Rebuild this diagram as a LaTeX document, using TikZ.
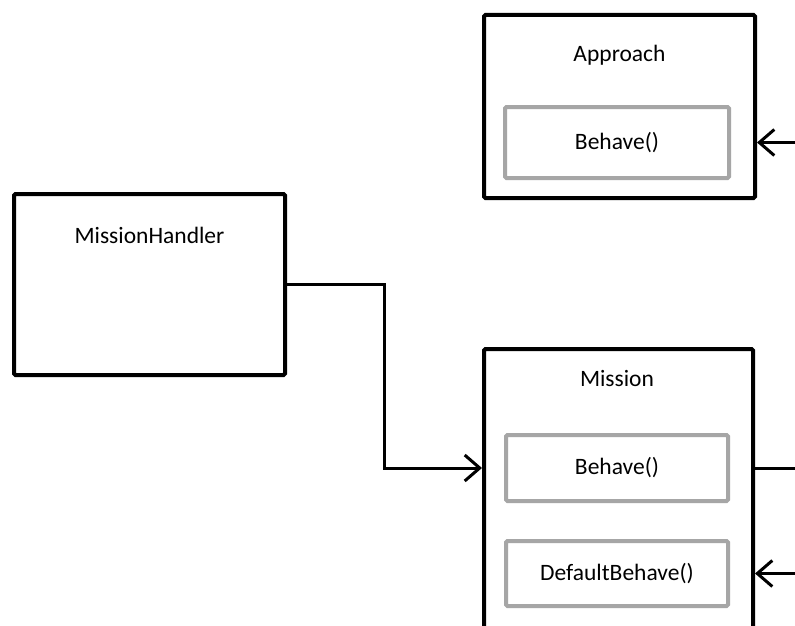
\documentclass[tikz,border=0pt]{standalone}
\usepackage{fontspec}
\setmainfont{Carlito}
\usetikzlibrary{arrows.meta}
\definecolor{methodgray}{HTML}{A6A6A6}
\tikzset{
  classbox/.style={draw=black, line width=4pt, rounded corners=1.5pt, inner sep=0pt, fill=white},
  methodbox/.style={draw=methodgray, line width=4pt, rounded corners=1.5pt, inner sep=0pt,
    font=\fontsize{23.5}{28}\selectfont},
  title/.style={inner sep=0pt, font=\fontsize{23.5}{28}\selectfont},
  link/.style={line width=3pt, line join=miter},
  tip/.style={-{Straight Barb[length=15pt, width=26pt, line width=3pt]}}
}
\begin{document}
\begin{tikzpicture}[x=1pt, y=-1pt]
  \useasboundingbox (0,0) rectangle (795,626);
  \clip (0,0) rectangle (795,626);

  % Approach class
  \node[classbox, minimum width=271pt, minimum height=183pt] (ap) at (619.5,106.5) {};
  \node[title] (apt) at (619.5,55) {Approach};
  \node[methodbox, minimum width=224pt, minimum height=71pt] (apb) at (617,142.5) {Behave()};

  % MissionHandler class
  \node[classbox, minimum width=271pt, minimum height=181pt] (mh) at (149.5,284.5) {};
  \node[title] (mht) at (149.5,235) {MissionHandler};

  % Mission class (runs past the lower edge)
  \node[classbox, minimum width=269pt, minimum height=320pt] (ms) at (618.5,509) {};
  \node[title] (mst) at (617,378) {Mission};
  \node[methodbox, minimum width=222pt, minimum height=66pt] (msb) at (617,468) {Behave()};
  \node[methodbox, minimum width=222pt, minimum height=65pt] (msd) at (617,573.5) {DefaultBehave()};

  % off-page ends of the connectors on the right
  \coordinate (apin) at (800,142.5);
  \coordinate (msout) at (800,468);
  \coordinate (msin) at (800,573.5);
  \coordinate (bend) at (384,0);

  % connectors
  \draw[link, tip] (mh.east) -| (bend |- msb.center) -- (ms.west |- msb.center);
  \draw[link, tip] (apin) -- (ap.east |- apb.center);
  \draw[link] (ms.east |- msb.center) -- (msout);
  \draw[link, tip] (msin) -- (ms.east |- msd.center);
\end{tikzpicture}
\end{document}
